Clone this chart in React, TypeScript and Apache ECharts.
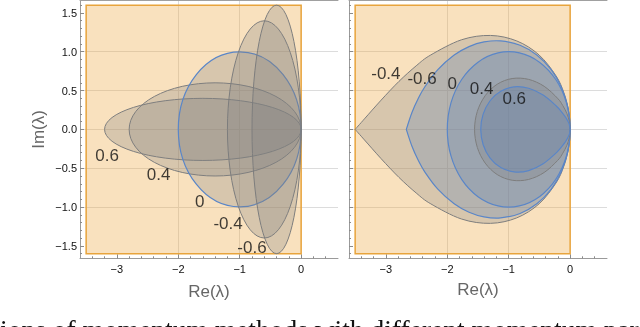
import React, { useEffect, useRef } from "react";
import * as echarts from "echarts";

// ---------------- data ----------------
const X_RANGE = [-3.6, 0.6];
const Y_RANGE = [-1.66, 1.66];
const xTickValues = [-3, -2, -1, 0];
const yTickValues = [-1.5, -1, -0.5, 0, 0.5, 1, 1.5];
const regionBox = [-3.5, -1.6, 0, 1.6]; // xmin, ymin, xmax, ymax

// left panel: ellipses (centre on the real axis, half width, half height)
const leftBetaLabels = ["0.6", "0.4", "0", "-0.4", "-0.6"];
const leftCenters = [-1.6, -1.4, -1.0, -0.6, -0.4];
const leftHalfWidths = [1.6, 1.4, 1.0, 0.6, 0.4];
const leftHalfHeights = [0.4, 0.6, 1.0, 1.4, 1.6];
const leftBlue = [false, false, true, false, false];
const leftLabelX = [-3.16, -2.32, -1.65, -1.19, -0.8];
const leftLabelY = [-0.34, -0.58, -0.93, -1.21, -1.515];

// right panel: upper half boundaries (mirrored for the lower half)
const rightBetaLabels = ["-0.4", "-0.6", "0", "0.4", "0.6"];
const rightBoundaries: number[][][] = [
  [[0, 0], [-0.026, 0.243], [-0.104, 0.476], [-0.231, 0.691], [-0.506, 0.959], [-0.868, 1.139], [-1.297, 1.21], [-1.769, 1.154], [-2.268, 0.959], [-2.506, 0.819], [-2.786, 0.619], [-3.077, 0.377], [-3.349, 0.135], [-3.5, 0]],
  [[0, 0], [-0.035, 0.277], [-0.14, 0.538], [-0.309, 0.769], [-0.537, 0.955], [-0.815, 1.083], [-1.132, 1.139], [-1.402, 1.126], [-1.646, 1.066], [-1.888, 0.957], [-2.154, 0.769], [-2.367, 0.546], [-2.477, 0.392], [-2.575, 0.218], [-2.667, 0]],
  [[0, 0], [-0.06, 0.342], [-0.234, 0.643], [-0.5, 0.866], [-0.826, 0.985], [-1.174, 0.985], [-1.5, 0.866], [-1.766, 0.643], [-1.94, 0.342], [-2, 0]],
  [[0, 0], [-0.014, 0.105], [-0.055, 0.208], [-0.12, 0.307], [-0.205, 0.401], [-0.423, 0.555], [-0.679, 0.645], [-0.943, 0.655], [-1.187, 0.582], [-1.383, 0.434], [-1.511, 0.232], [-1.556, 0]],
  [[0, 0], [-0.017, 0.071], [-0.065, 0.145], [-0.137, 0.223], [-0.226, 0.302], [-0.439, 0.442], [-0.675, 0.53], [-0.912, 0.547], [-1.129, 0.491], [-1.303, 0.369], [-1.416, 0.197], [-1.455, 0]],
];
const rightPointed = [true, true, false, false, false];
const rightBlue = [false, true, true, false, true];
const rightLabelX = [-3.0, -2.41, -1.92, -1.44, -0.91];
const rightLabelY = [0.714, 0.65, 0.585, 0.529, 0.4];

const caption = "ions of momentum methods with different momentum par";

// ---------------- styling ----------------
const SANS = '"Liberation Sans", Arial, sans-serif';
const GRAY_FILL = "rgba(128,128,128,0.28)";
const BLUE_FILL = "rgba(94,129,181,0.28)";
const GRAY_STROKE = "#7d7d7d";
const BLUE_STROKE = "#5a86c8";

const minus = (s: string) => s.replace("-", "\u2212");
const fmtX = (v: number) => minus(String(Math.round(v)));
const fmtY = (v: number) => minus(v.toFixed(1));

const xMinor: number[] = [];
for (let k = -17; k <= 2; k++) xMinor.push(Math.round(k * 2) / 10);
const yMinor: number[] = [];
for (let k = -16; k <= 16; k++) yMinor.push(k / 10);

function loopPath(pix: number[][], corner: boolean[]): string {
  const n = pix.length;
  const P = (i: number) => pix[((i % n) + n) % n];
  let d = `M ${pix[0][0]} ${pix[0][1]} `;
  for (let i = 0; i < n; i++) {
    const p0 = P(i - 1), p1 = P(i), p2 = P(i + 1), p3 = P(i + 2);
    const c1 = corner[i] ? p1 : [p1[0] + (p2[0] - p0[0]) / 6, p1[1] + (p2[1] - p0[1]) / 6];
    const c2 = corner[(i + 1) % n] ? p2 : [p2[0] - (p3[0] - p1[0]) / 6, p2[1] - (p3[1] - p1[1]) / 6];
    d += `C ${c1[0]} ${c1[1]} ${c2[0]} ${c2[1]} ${p2[0]} ${p2[1]} `;
  }
  return d + "Z";
}

function mainX(gridIndex: number, nameGap: number) {
  return {
    type: "value", gridIndex, min: X_RANGE[0], max: X_RANGE[1], position: "bottom",
    name: "Re(\u03bb)", nameLocation: "middle", nameGap,
    nameTextStyle: { fontSize: 17, color: "#666", fontFamily: SANS },
    axisLine: { show: true, onZero: false, lineStyle: { color: "#9a9a9a", width: 1 } },
    axisTick: { show: true, inside: true, length: 4, customValues: xTickValues, lineStyle: { color: "#8a8a8a" } },
    axisLabel: { show: true, customValues: xTickValues, formatter: fmtX, fontSize: 11, color: "#111", margin: 5, fontFamily: SANS },
    splitLine: { show: true, showMinLine: false, showMaxLine: false, lineStyle: { color: "#dcdcdc", width: 1 } },
  };
}
function minorX(gridIndex: number) {
  return {
    type: "value", gridIndex, min: X_RANGE[0], max: X_RANGE[1], position: "bottom",
    axisLine: { show: false, onZero: false },
    axisTick: { show: true, inside: true, length: 2, customValues: xMinor, lineStyle: { color: "#8a8a8a" } },
    axisLabel: { show: false }, splitLine: { show: false },
  };
}
function topX(gridIndex: number) {
  return {
    type: "value", gridIndex, min: X_RANGE[0], max: X_RANGE[1], position: "top",
    axisLine: { show: true, onZero: false, lineStyle: { color: "#a0a0a0", width: 1 } },
    axisTick: { show: false }, axisLabel: { show: false }, splitLine: { show: false },
  };
}
function mainY(gridIndex: number, labels: boolean) {
  return {
    type: "value", gridIndex, min: Y_RANGE[0], max: Y_RANGE[1], position: "left",
    name: labels ? "Im(\u03bb)" : "", nameLocation: "middle", nameGap: 33,
    nameTextStyle: { fontSize: 17, color: "#666", fontFamily: SANS },
    axisLine: { show: true, onZero: false, lineStyle: { color: "#9a9a9a", width: 1 } },
    axisTick: { show: true, inside: true, length: 4, customValues: yTickValues, lineStyle: { color: "#8a8a8a" } },
    axisLabel: { show: labels, customValues: yTickValues, formatter: fmtY, fontSize: 11, color: "#111", margin: 3, fontFamily: SANS },
    splitLine: { show: true, showMinLine: false, showMaxLine: false, lineStyle: { color: "#dcdcdc", width: 1 } },
  };
}
function minorY(gridIndex: number) {
  return {
    type: "value", gridIndex, min: Y_RANGE[0], max: Y_RANGE[1], position: "left",
    axisLine: { show: false, onZero: false },
    axisTick: { show: true, inside: true, length: 2, customValues: yMinor, lineStyle: { color: "#8a8a8a" } },
    axisLabel: { show: false }, splitLine: { show: false },
  };
}

function rectSeries(xAxisIndex: number, yAxisIndex: number) {
  return {
    type: "custom", xAxisIndex, yAxisIndex, silent: true, z: 1,
    data: [regionBox],
    renderItem: (_p: any, api: any) => {
      const a = api.coord([api.value(0), api.value(3)]);
      const b = api.coord([api.value(2), api.value(1)]);
      return {
        type: "rect",
        shape: { x: a[0], y: a[1], width: b[0] - a[0], height: b[1] - a[1] },
        style: { fill: "rgba(238,170,70,0.35)", stroke: "#e8a43c", lineWidth: 1.5 },
      };
    },
  };
}

function labelSeries(xAxisIndex: number, yAxisIndex: number, xs: number[], ys: number[], texts: string[]) {
  return {
    type: "scatter", xAxisIndex, yAxisIndex, silent: true, z: 10,
    symbolSize: 1, itemStyle: { color: "rgba(0,0,0,0)" },
    data: texts.map((t, i) => [xs[i], ys[i], t]),
    label: {
      show: true, position: "inside", formatter: (p: any) => p.value[2],
      fontSize: 17, color: "#111", fontFamily: SANS,
    },
  };
}

export default function App() {
  const ref = useRef<HTMLDivElement>(null);
  useEffect(() => {
    if (!ref.current) return;
    const chart = echarts.init(ref.current, undefined, { renderer: "svg" });
    const gridH = 257.8;
    const option: any = {
      animation: false,
      grid: [
        { left: 80, top: 0.5, width: 258, height: gridH, outerBoundsMode: "none" },
        { left: 349, top: 0.5, width: 258, height: gridH, outerBoundsMode: "none" },
      ],
      xAxis: [mainX(0, 25), minorX(0), topX(0), mainX(1, 23), minorX(1), topX(1)],
      yAxis: [mainY(0, true), minorY(0), mainY(1, false), minorY(1)],
      series: [
        rectSeries(0, 0),
        {
          type: "custom", xAxisIndex: 0, yAxisIndex: 0, silent: true, z: 2,
          data: leftCenters.map((c, i) => [c, 0, leftHalfWidths[i], leftHalfHeights[i], i]),
          renderItem: (_p: any, api: any) => {
            const c = api.coord([api.value(0), 0]);
            const s = api.size([api.value(2), api.value(3)]);
            const rx = s[0], ry = s[1];
            const i = api.value(4);
            const d = `M ${c[0] - rx} ${c[1]} A ${rx} ${ry} 0 1 0 ${c[0] + rx} ${c[1]} A ${rx} ${ry} 0 1 0 ${c[0] - rx} ${c[1]} Z`;
            return {
              type: "path", shape: { pathData: d },
              style: { fill: GRAY_FILL, stroke: leftBlue[i] ? BLUE_STROKE : GRAY_STROKE, lineWidth: leftBlue[i] ? 1.2 : 1 },
            };
          },
        },
        labelSeries(0, 0, leftLabelX, leftLabelY, leftBetaLabels),
        rectSeries(3, 2),
        {
          type: "custom", xAxisIndex: 3, yAxisIndex: 2, silent: true, z: 2,
          data: rightBoundaries.map((_b, i) => [i, 0]),
          renderItem: (_p: any, api: any) => {
            const idx = api.value(0);
            const upper = rightBoundaries[idx];
            const lower = upper.slice(1, -1).reverse().map(([x, y]) => [x, -y]);
            const full = upper.concat(lower);
            const pix = full.map((p) => api.coord(p));
            const corner = full.map((_q, k) => rightPointed[idx] && k === upper.length - 1);
            return {
              type: "path", shape: { pathData: loopPath(pix, corner) },
              style: {
                fill: rightBlue[idx] ? BLUE_FILL : GRAY_FILL,
                stroke: rightBlue[idx] ? BLUE_STROKE : GRAY_STROKE,
                lineWidth: rightBlue[idx] ? 1.2 : 1,
              },
            };
          },
        },
        labelSeries(3, 2, rightLabelX, rightLabelY, rightBetaLabels),
      ],
      graphic: [
        {
          type: "text", x: 0, y: 329, silent: true,
          style: {
            text: caption, fontSize: 27.5, fontFamily: '"Liberation Serif", "Times New Roman", serif',
            fill: "#111", verticalAlign: "middle", align: "left",
          },
        },
      ],
    };
    chart.setOption(option);
    return () => chart.dispose();
  }, []);
  return <div ref={ref} style={{ position: "fixed", left: 0, top: 0, width: 640, height: 327 }} />;
}
